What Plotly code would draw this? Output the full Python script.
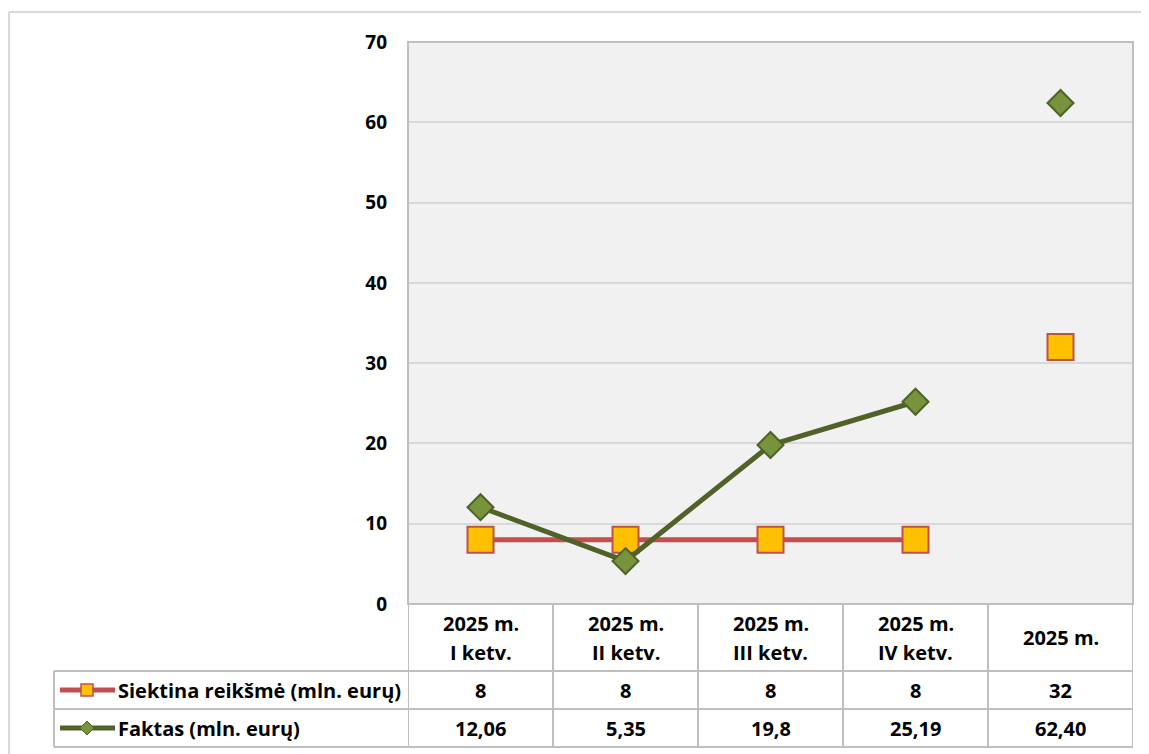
import plotly.graph_objects as go

categories = ["2025 m.<br>I ketv.", "2025 m.<br>II ketv.", "2025 m.<br>III ketv.", "2025 m.<br>IV ketv.", "2025 m."]
target = [8, 8, 8, 8, 32]
fact = [12.06, 5.35, 19.8, 25.19, 62.40]
target_labels = ["8", "8", "8", "8", "32"]
fact_labels = ["12,06", "5,35", "19,8", "25,19", "62,40"]
series_names = ["Siektina reikšmė (mln. eurų)", "Faktas (mln. eurų)"]
y_ticks = [0, 10, 20, 30, 40, 50, 60, 70]

OFF = 8  # browser default body margin
W, H = 1149 - OFF, 754 - OFF
# reference-pixel geometry of plot area
PL, PR, PT, PB = 408, 1133, 42, 604
L, T = PL - OFF, PT - OFF
R, B = W - (PR - OFF), H - (PB - OFF)
PW, PH = PR - PL, PB - PT

RED, YEL = "#C0504D", "#FFC000"
GDARK, GFILL = "#4F6228", "#77933C"
GRID, BORDER = "#D9D9D9", "#BFBFBF"
FONT = "Open Sans"

def px(xp):
    return (xp - PL) / PW

def py(yp):
    return (PB - yp) / PH

xs = list(range(len(categories)))

sq = dict(symbol="square", size=26, color=YEL, line=dict(color=RED, width=2))
dm = dict(symbol="diamond", size=20, color=GFILL, line=dict(color=GDARK, width=2))

fig = go.Figure()
fig.add_trace(go.Scatter(x=xs[:4], y=target[:4], mode="lines+markers",
                         line=dict(color=RED, width=5), marker=sq, showlegend=False))
fig.add_trace(go.Scatter(x=xs[4:], y=target[4:], mode="markers", marker=sq, showlegend=False))
fig.add_trace(go.Scatter(x=xs[:4], y=fact[:4], mode="lines+markers",
                         line=dict(color=GDARK, width=5), marker=dm, showlegend=False))
fig.add_trace(go.Scatter(x=xs[4:], y=fact[4:], mode="markers", marker=dm, showlegend=False))

shapes = []
# outer frame
shapes.append(dict(type="line", xref="paper", yref="paper", x0=px(9), x1=px(1160), y0=py(12), y1=py(12),
                   line=dict(color=GRID, width=2)))
shapes.append(dict(type="line", xref="paper", yref="paper", x0=px(9), x1=px(9), y0=py(12), y1=py(770),
                   line=dict(color=GRID, width=2)))
# plot border
shapes.append(dict(type="rect", xref="paper", yref="paper", x0=0, x1=1, y0=0, y1=1,
                   line=dict(color=BORDER, width=2)))
# table horizontal lines
for yy, x0 in [(604, PL), (671, 54), (709, 54), (747, 54)]:
    shapes.append(dict(type="line", xref="paper", yref="paper", x0=px(x0), x1=1, y0=py(yy), y1=py(yy),
                       line=dict(color=BORDER, width=2)))
# table vertical lines
for k in range(len(categories) + 1):
    shapes.append(dict(type="line", xref="x", yref="paper", x0=k - 0.5, x1=k - 0.5, y0=py(604), y1=py(747),
                       line=dict(color=BORDER, width=2)))
shapes.append(dict(type="line", xref="paper", yref="paper", x0=px(54), x1=px(54), y0=py(671), y1=py(747),
                   line=dict(color=BORDER, width=2)))
# legend swatches
shapes.append(dict(type="line", xref="paper", yref="paper", x0=px(60), x1=px(115), y0=py(690), y1=py(690),
                   line=dict(color=RED, width=5)))
shapes.append(dict(type="rect", xref="paper", yref="paper", x0=px(81), x1=px(93), y0=py(684), y1=py(696),
                   fillcolor=YEL, line=dict(color=RED, width=1.5)))
shapes.append(dict(type="line", xref="paper", yref="paper", x0=px(60), x1=px(115), y0=py(728), y1=py(728),
                   line=dict(color=GDARK, width=5)))
cx, cy, r = 87, 728, 7
shapes.append(dict(type="path", xref="paper", yref="paper",
                   path=f"M {px(cx-r)} {py(cy)} L {px(cx)} {py(cy-r)} L {px(cx+r)} {py(cy)} L {px(cx)} {py(cy+r)} Z",
                   fillcolor=GFILL, line=dict(color=GDARK, width=1)))

annotations = []
tf = dict(family=FONT, size=20, color="black", weight="bold")
LINE_GAP = 29
for i, c in enumerate(categories):
    lines = c.split("<br>")
    n = len(lines)
    for j, ln in enumerate(lines):
        yc = 637.5 + (j - (n - 1) / 2) * LINE_GAP
        annotations.append(dict(x=i, y=py(yc), xref="x", yref="paper", text=ln, showarrow=False,
                                font=tf, xanchor="center", yanchor="middle"))
    annotations.append(dict(x=i, y=py(690), xref="x", yref="paper", text=target_labels[i], showarrow=False,
                            font=tf, xanchor="center", yanchor="middle"))
    annotations.append(dict(x=i, y=py(728), xref="x", yref="paper", text=fact_labels[i], showarrow=False,
                            font=tf, xanchor="center", yanchor="middle"))
for name, yy in zip(series_names, [690, 728]):
    annotations.append(dict(x=px(116), y=py(yy), xref="paper", yref="paper", text=name, showarrow=False,
                            font=tf, xanchor="left", yanchor="middle"))

fig.update_layout(
    width=W, height=H,
    margin=dict(l=L, r=R, t=T, b=B),
    paper_bgcolor="white", plot_bgcolor="#F1F1F1",
    font=dict(family=FONT),
    shapes=shapes, annotations=annotations,
    xaxis=dict(range=[-0.5, len(categories) - 0.5], showticklabels=False, showgrid=False,
               zeroline=False, showline=False, fixedrange=True),
    yaxis=dict(range=[0, 70], tickvals=y_ticks, showgrid=True, gridcolor=GRID, gridwidth=2,
               zeroline=False, showline=False, ticks="", ticklabelstandoff=20,
               tickfont=dict(family=FONT, size=19, color="black", weight="bold")),
)

fig.write_html("out.html")
